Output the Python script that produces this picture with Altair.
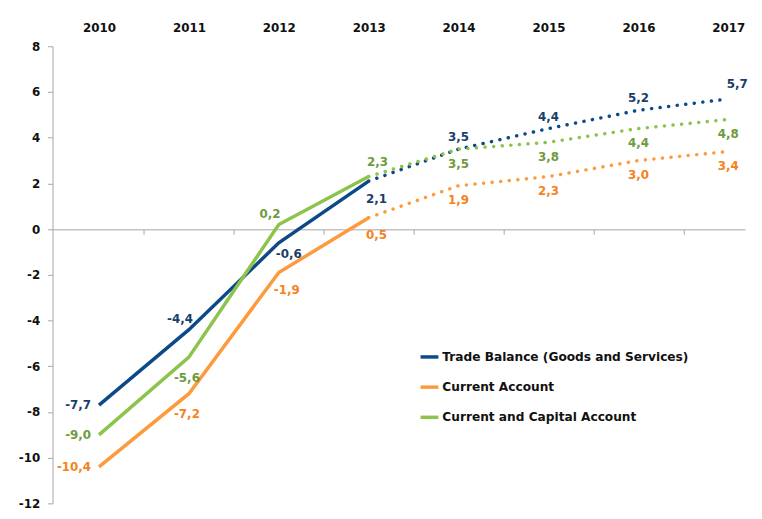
import altair as alt
import pandas as pd

years = [2010, 2011, 2012, 2013, 2014, 2015, 2016, 2017]
series_names = ["Trade Balance (Goods and Services)", "Current Account", "Current and Capital Account"]
trade_balance = [-7.7, -4.4, -0.6, 2.1, 3.5, 4.4, 5.2, 5.7]
current_account = [-10.4, -7.2, -1.9, 0.5, 1.9, 2.3, 3.0, 3.4]
current_capital = [-9.0, -5.6, 0.2, 2.3, 3.5, 3.8, 4.4, 4.8]
last_actual_year = 2013
y_ticks = [-12, -10, -8, -6, -4, -2, 0, 2, 4, 6, 8]

# where each value label sits relative to its point
place_trade = ["left", "above_left", "right_below", "below_right", "above", "above", "above", "above_right"]
place_current = ["left", "below_far", "below_right", "below_right", "below", "below", "below", "below"]
place_capital = ["left", "below_far", "above_left", "above_right", "below", "below", "below", "below"]

line_colors = ["#0B4A87", "#FF9A3C", "#8CC34B"]
text_colors = ["#1B3D6A", "#F58220", "#6E9B3C"]

placements = {
    "left": (-8, 0, "right"),
    "above": (0, -12, "center"),
    "above_left": (-9, -11, "center"),
    "above_right": (9, -15, "center"),
    "below": (0, 15, "center"),
    "below_far": (-2, 21, "center"),
    "below_right": (8, 18, "center"),
    "right_below": (10, 11, "center"),
}

rows = []
for name, vals, places in zip(series_names,
                              [trade_balance, current_account, current_capital],
                              [place_trade, place_current, place_capital]):
    for yr, v, p in zip(years, vals, places):
        rows.append({"year": yr, "value": v, "series": name,
                     "label": f"{v:.1f}".replace(".", ","), "place": p})
df = pd.DataFrame(rows)

FONT = "DejaVu Sans"
x_scale = alt.Scale(domain=[2009.483, 2017.187], nice=False, zero=False)
y_scale = alt.Scale(domain=[-12, 8], nice=False, zero=False)
color_scale = alt.Scale(domain=series_names, range=line_colors)

legend = alt.Legend(
    title=None, orient="none", legendX=370, legendY=303, direction="vertical",
    symbolType="stroke", symbolSize=324, symbolStrokeWidth=3.5, labelOffset=2,
    labelFont=FONT, labelFontSize=12.3, labelFontWeight="bold", labelColor="#111111",
    rowPadding=12.5, labelLimit=400,
)

base = alt.Chart(df)

solid = base.transform_filter(alt.datum.year <= last_actual_year).mark_line(
    strokeWidth=3.5
).encode(
    x=alt.X("year:Q", scale=x_scale, axis=alt.Axis(
        orient="top", values=years, labelExpr="'' + datum.value", domain=False,
        ticks=False, grid=False, labelPadding=12, labelFont=FONT, labelFontSize=12,
        labelFontWeight="bold", labelColor="#111111", title=None)),
    y=alt.Y("value:Q", scale=y_scale, axis=alt.Axis(
        values=y_ticks, labelExpr="'' + datum.value", grid=False, domainColor="#A6A6A6",
        tickColor="#A6A6A6", tickSize=5, labelPadding=8, labelFont=FONT, labelFontSize=12,
        labelFontWeight="bold", labelColor="#111111", title=None)),
    color=alt.Color("series:N", scale=color_scale, legend=legend),
    detail="series:N",
)

mid_ticks = [y + 0.5 for y in years[:-1]]
dotted = base.transform_filter(alt.datum.year >= last_actual_year).mark_line(
    strokeWidth=3.5, strokeDash=[0.1, 8.6], strokeCap="round"
).encode(
    x=alt.X("year:Q", scale=x_scale, axis=alt.Axis(
        orient="bottom", values=mid_ticks, labels=False, grid=False, offset=-277,
        domainColor="#A6A6A6", tickColor="#A6A6A6", tickSize=5, title=None)),
    y=alt.Y("value:Q", scale=y_scale, axis=None),
    color=alt.Color("series:N", scale=color_scale, legend=legend),
    detail="series:N",
)

text_layers = []
for name, tcol in zip(series_names, text_colors):
    for pname, (dx, dy, align) in placements.items():
        sub = df[(df.series == name) & (df.place == pname)]
        if sub.empty:
            continue
        text_layers.append(
            alt.Chart(sub).mark_text(
                dx=dx, dy=dy, align=align, baseline="middle", font=FONT,
                fontSize=12, fontWeight="bold", color=tcol
            ).encode(
                x=alt.X("year:Q", scale=x_scale, axis=None),
                y=alt.Y("value:Q", scale=y_scale, axis=None),
                text="label:N",
            )
        )

chart = alt.layer(solid, dotted, *text_layers).resolve_axis(
    x="independent", y="independent"
).properties(
    width=700, height=462, autosize="none",
    padding={"left": 45, "top": 36, "right": 9, "bottom": 5},
).configure_view(stroke=None)

chart.save("out.html", embed_options={"renderer": "svg", "actions": False})
